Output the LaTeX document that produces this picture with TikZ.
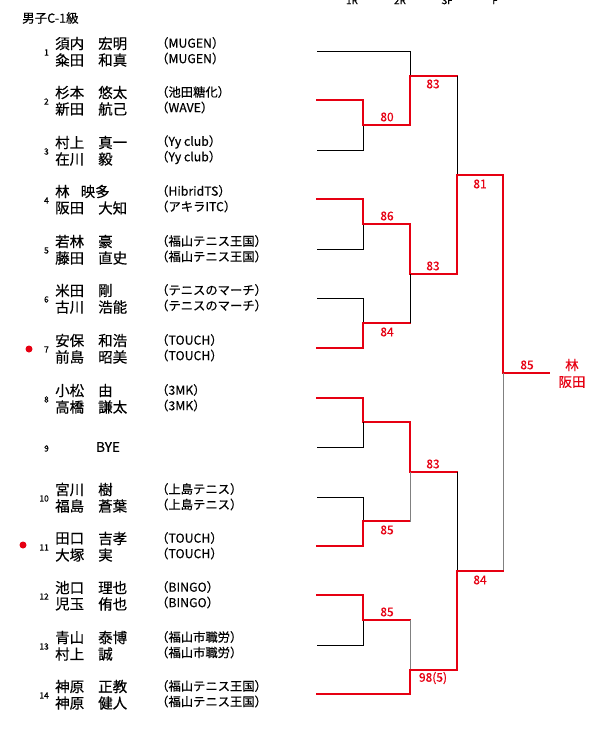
\documentclass[tikz,border=0pt]{standalone}
\usepackage{fontspec}
\setmainfont{Noto Sans CJK JP}[FakeBold=0.4]
\definecolor{siegrot}{RGB}{230,0,18}
\definecolor{offengrau}{RGB}{128,128,128}
\begin{document}
\begin{tikzpicture}[x=1pt,y=-1pt,line cap=rect,
  linie/.style={black,line width=0.7pt},
  sieg/.style={siegrot,line width=1.5pt},
  siegdick/.style={siegrot,line width=2.3pt},
  offen/.style={offengrau,line width=1pt},
  ergebnis/.style={siegrot,inner sep=0pt,font=\fontsize{12}{13}\selectfont},
  spieler/.style={anchor=west,inner sep=0pt,font=\fontsize{14.5}{15}\selectfont},
  verein/.style={anchor=west,inner sep=0pt,font=\fontsize{12.3}{13}\selectfont},
  nummer/.style={anchor=east,inner sep=0pt,font=\fontsize{8.5}{9}\selectfont},
  runde/.style={inner sep=0pt,font=\fontsize{10}{11}\selectfont},
  punkt/.style={circle,fill=siegrot,inner sep=0pt,minimum size=7pt}]
\useasboundingbox (0,0) rectangle (598,730);
%
% Kopf: Klasse und Runden
%
\node[anchor=west,inner sep=0pt,font=\fontsize{12.5}{13}\selectfont] (klasse) at (22,18) {男子C-1級};
\node[runde] (r1) at (352,0.5) {1R};
\node[runde] (r2) at (400,0.5) {2R};
\node[runde] (r3) at (447,0.5) {SF};
\node[runde] (r4) at (495,0.5) {F};
%
% --- Paarungen links ---
\foreach \n/\y/\sa/\ga/\va/\sb/\gb/\vb in {
  1/51/須内/宏明/MUGEN/粂田/和真/MUGEN,
  2/100/杉本/悠太/池田糖化/新田/航己/WAVE,
  3/150/村上/真一/Yy club/在川/毅/Yy club,
  4/199/林\hspace{11pt}映多/{}/HibridTS/阪田/大知/アキラITC,
  5/249/若林/豪/福山テニス王国/藤田/直史/福山テニス王国,
  6/298/米田/剛/テニスのマーチ/古川/浩能/テニスのマーチ,
  7/348/安保/和浩/TOUCH/前島/昭美/TOUCH,
  8/398/小松/由/3MK/高橋/謙太/3MK,
  10/497/宮川/樹/上島テニス/福島/蒼葉/上島テニス,
  11/546/田口/吉孝/TOUCH/大塚/実/TOUCH,
  12/595/池口/理也/BINGO/児玉/侑也/BINGO,
  13/645/青山/泰博/福山市職労/村上/誠/福山市職労,
  14/694/神原/正教/福山テニス王国/神原/健人/福山テニス王国}{
  \node[nummer] (nr\n) at (49,{\y+1.5}) {\n};
  \node[spieler] (sa\n) at (55,{\y-7.5}) {\sa};
  \node[spieler] (ga\n) at (98,{\y-7.5}) {\ga};
  \node[verein] (va\n) at (156,{\y-8}) {（\va）};
  \node[spieler] (sb\n) at (55,{\y+9}) {\sb};
  \node[spieler] (gb\n) at (98,{\y+9}) {\gb};
  \node[verein] (vb\n) at (156,{\y+7.5}) {（\vb）};
}
% Freilos
\node[nummer] (nr9) at (49,448.5) {9};
\node[inner sep=0pt,font=\fontsize{13.5}{14}\selectfont] (bye9) at (108,447) {BYE};
% Markierungen
\node[punkt] (punkt7) at (29,349) {};
\node[punkt] (punkt11) at (23,545) {};
%
% --- obere Hälfte ---
\draw[linie] (317,51) -- (410,51) -- (410,76);
\draw[sieg] (317,100) -- (363,100) -- (363,125);
\draw[linie] (317,150) -- (363,150) -- (363,125);
\draw[siegdick] (363,125) -- (410,125);
\draw[sieg] (410,125) -- (410,76) -- (457,76);
\draw[linie] (457,76) -- (457,175);
\node[ergebnis] (e80) at (387,117) {80};
\node[ergebnis] (e83a) at (433,84) {83};
\draw[sieg] (317,199) -- (363,199) -- (363,224);
\draw[linie] (317,249) -- (363,249) -- (363,224);
\draw[siegdick] (363,224) -- (410,224);
\draw[sieg] (410,224) -- (410,274);
\draw[siegdick] (410,274) -- (457,274);
\node[ergebnis] (e86) at (387,216) {86};
\node[ergebnis] (e83b) at (433,266) {83};
\draw[linie] (317,298) -- (363,298) -- (363,323);
\draw[sieg] (317,348) -- (363,348) -- (363,323) -- (410,323);
\draw[linie] (410,323) -- (410,274);
\node[ergebnis] (e84a) at (387,332) {84};
\draw[sieg] (457,274) -- (457,175) -- (503,175) -- (503,373) -- (549,373);
\node[ergebnis] (e81) at (480,184) {81};
\node[ergebnis] (e85a) at (527,365) {85};
% Sieger
\node[siegrot,inner sep=0pt,font=\fontsize{13.5}{14}\selectfont] (sieger1) at (572,365) {林};
\node[siegrot,inner sep=0pt,font=\fontsize{13.5}{14}\selectfont] (sieger2) at (572,382) {阪田};
\draw[offen] (503,373) -- (503,571);
%
% --- untere Hälfte ---
\draw[sieg] (317,398) -- (363,398) -- (363,422) -- (410,422) -- (410,472);
\draw[linie] (317,447) -- (363,447) -- (363,422);
\draw[siegdick] (410,472) -- (457,472);
\node[ergebnis] (e83c) at (433,464) {83};
\draw[linie] (317,497) -- (363,497) -- (363,521);
\draw[sieg] (317,546) -- (363,546) -- (363,521) -- (410,521);
\draw[offen] (410,521) -- (410,472);
\node[ergebnis] (e85b) at (387,530) {85};
\draw[linie] (457,472) -- (457,571);
\draw[sieg] (503,571) -- (457,571) -- (457,670);
\node[ergebnis] (e84b) at (480,580) {84};
\draw[sieg] (317,595) -- (363,595) -- (363,620);
\draw[linie] (317,645) -- (363,645) -- (363,620);
\draw[siegdick] (363,620) -- (410,620);
\draw[offen] (410,620) -- (410,670);
\node[ergebnis] (e85c) at (387,612) {85};
\draw[siegdick] (317,694) -- (410,694) -- (410,670) -- (457,670);
\node[ergebnis] (e98) at (433,678) {98(5)};
\end{tikzpicture}
\end{document}
